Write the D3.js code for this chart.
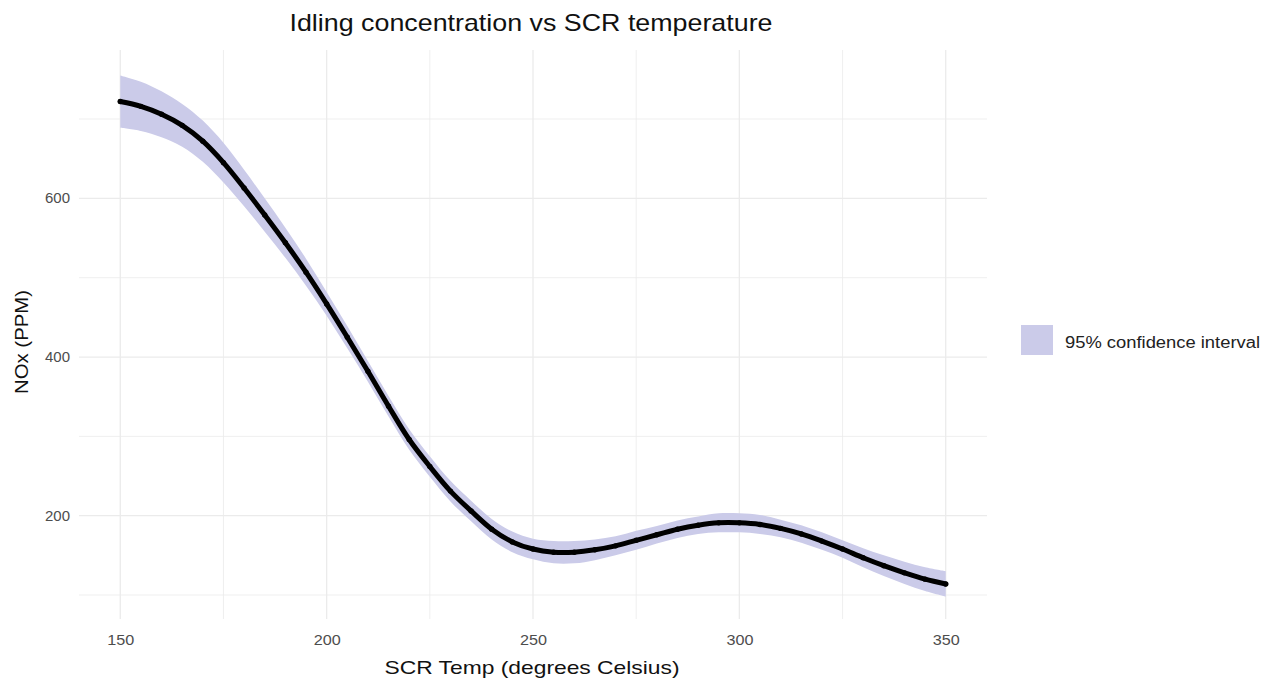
<!DOCTYPE html>
<html>
<head>
<meta charset="utf-8">
<script src="https://cdn.jsdelivr.net/npm/d3@7"></script>
<style>
  body { margin: 0; background: #fff; }
  svg { display: block; font-family: "Liberation Sans", Arial, sans-serif; }
</style>
</head>
<body>
<svg id="chart" width="1265" height="682"></svg>
<script>
// ---- data ----
const temps = [150,155,160,165,170,175,180,185,190,195,200,205,210,215,220,225,230,235,240,245,250,
               255,260,265,270,275,280,285,290,295,300,305,310,315,320,325,330,335,340,345,350];
const nox   = [722,716,706,692,672,645,613,579,544,507,467,425,382,338,296,262,231,206,183,167,158,
               154,154,157,162,169,176,183,188,191,191,189,184,177,168,158,147,137,128,120,114];
const lower = [689,685,677,665,646,620,590,558,525,490,452,411,369,325,283,249,218,193,170,154,145,
               140,140,144,150,157,165,172,177,179,179,177,173,166,157,147,135,124,114,105,98];
const upper = [755,747,735,719,698,670,636,600,563,524,482,439,395,351,309,275,244,219,196,180,171,
               168,168,170,174,181,187,194,199,203,203,201,195,188,179,169,159,150,142,135,130];
const xMajorTicks = [150,200,250,300,350];
const xMinorTicks = [175,225,275,325];
const yMajorTicks = [200,400,600];
const yMinorTicks = [100,300,500,700];
const titleText = "Idling concentration vs SCR temperature";
const xTitle = "SCR Temp (degrees Celsius)";
const yTitle = "NOx (PPM)";
const legendLabel = "95% confidence interval";

// ---- layout ----
const svg = d3.select("#chart");
const panel = { left: 79, right: 987, top: 50, bottom: 619 };
const x = d3.scaleLinear().domain([140, 360]).range([panel.left, panel.right]);
const y = d3.scaleLinear().domain([69.8, 787]).range([panel.bottom, panel.top]);

const grid = svg.append("g");
xMinorTicks.forEach(t => grid.append("line")
  .attr("x1", x(t)).attr("x2", x(t)).attr("y1", panel.top).attr("y2", panel.bottom)
  .attr("stroke", "#ebebeb").attr("stroke-width", 0.8));
yMinorTicks.forEach(t => grid.append("line")
  .attr("x1", panel.left).attr("x2", panel.right).attr("y1", y(t)).attr("y2", y(t))
  .attr("stroke", "#ebebeb").attr("stroke-width", 0.8));
xMajorTicks.forEach(t => grid.append("line")
  .attr("x1", x(t)).attr("x2", x(t)).attr("y1", panel.top).attr("y2", panel.bottom)
  .attr("stroke", "#ebebeb").attr("stroke-width", 1.3));
yMajorTicks.forEach(t => grid.append("line")
  .attr("x1", panel.left).attr("x2", panel.right).attr("y1", y(t)).attr("y2", y(t))
  .attr("stroke", "#ebebeb").attr("stroke-width", 1.3));

// ---- axes (text only, like theme_minimal) ----
const xAxis = svg.append("g").attr("transform", `translate(0,${panel.bottom})`)
  .call(d3.axisBottom(x).tickValues(xMajorTicks).tickSize(0).tickPadding(16));
xAxis.select(".domain").remove();
xAxis.selectAll("text").attr("font-size", 14).attr("fill", "#4d4d4d")
  .attr("font-family", "Liberation Sans, Arial, sans-serif")
  .attr("textLength", 27).attr("lengthAdjust", "spacingAndGlyphs");

const yAxis = svg.append("g").attr("transform", `translate(${panel.left},0)`)
  .call(d3.axisLeft(y).tickValues(yMajorTicks).tickSize(0).tickPadding(9));
yAxis.select(".domain").remove();
yAxis.selectAll("text").attr("font-size", 14).attr("fill", "#4d4d4d")
  .attr("font-family", "Liberation Sans, Arial, sans-serif")
  .attr("textLength", 25).attr("lengthAdjust", "spacingAndGlyphs");

// ---- ribbon ----
const rows = temps.map((t, i) => ({ t, v: nox[i], lo: lower[i], hi: upper[i] }));
svg.append("path").datum(rows)
  .attr("d", d3.area().x(d => x(d.t)).y0(d => y(d.lo)).y1(d => y(d.hi)).curve(d3.curveCatmullRom))
  .attr("fill", "#cbcbe9");

// ---- fitted line with points ----
svg.append("path").datum(rows)
  .attr("d", d3.line().x(d => x(d.t)).y(d => y(d.v)).curve(d3.curveCatmullRom))
  .attr("fill", "none").attr("stroke", "#000").attr("stroke-width", 5)
  .attr("stroke-linecap", "round");
svg.append("g").selectAll("circle").data(rows).join("circle")
  .attr("cx", d => x(d.t)).attr("cy", d => y(d.v)).attr("r", 2.7).attr("fill", "#000");

// ---- titles ----
svg.append("text").attr("x", 531).attr("y", 31)
  .attr("text-anchor", "middle").attr("font-size", 24).attr("fill", "#111")
  .attr("textLength", 483).attr("lengthAdjust", "spacingAndGlyphs").text(titleText);
svg.append("text").attr("x", 532).attr("y", 674)
  .attr("text-anchor", "middle").attr("font-size", 19).attr("fill", "#111")
  .attr("textLength", 295).attr("lengthAdjust", "spacingAndGlyphs").text(xTitle);
svg.append("text").attr("transform", `translate(28,342) rotate(-90)`)
  .attr("text-anchor", "middle").attr("font-size", 19).attr("fill", "#111")
  .attr("textLength", 104).attr("lengthAdjust", "spacingAndGlyphs").text(yTitle);

// ---- legend ----
const leg = svg.append("g");
leg.append("rect").attr("x", 1021).attr("y", 325).attr("width", 32).attr("height", 30)
  .attr("fill", "#cbcbe9");
leg.append("text").attr("x", 1065).attr("y", 347.5).attr("font-size", 16).attr("fill", "#222")
  .attr("textLength", 195).attr("lengthAdjust", "spacingAndGlyphs").text(legendLabel);
</script>
</body>
</html>
